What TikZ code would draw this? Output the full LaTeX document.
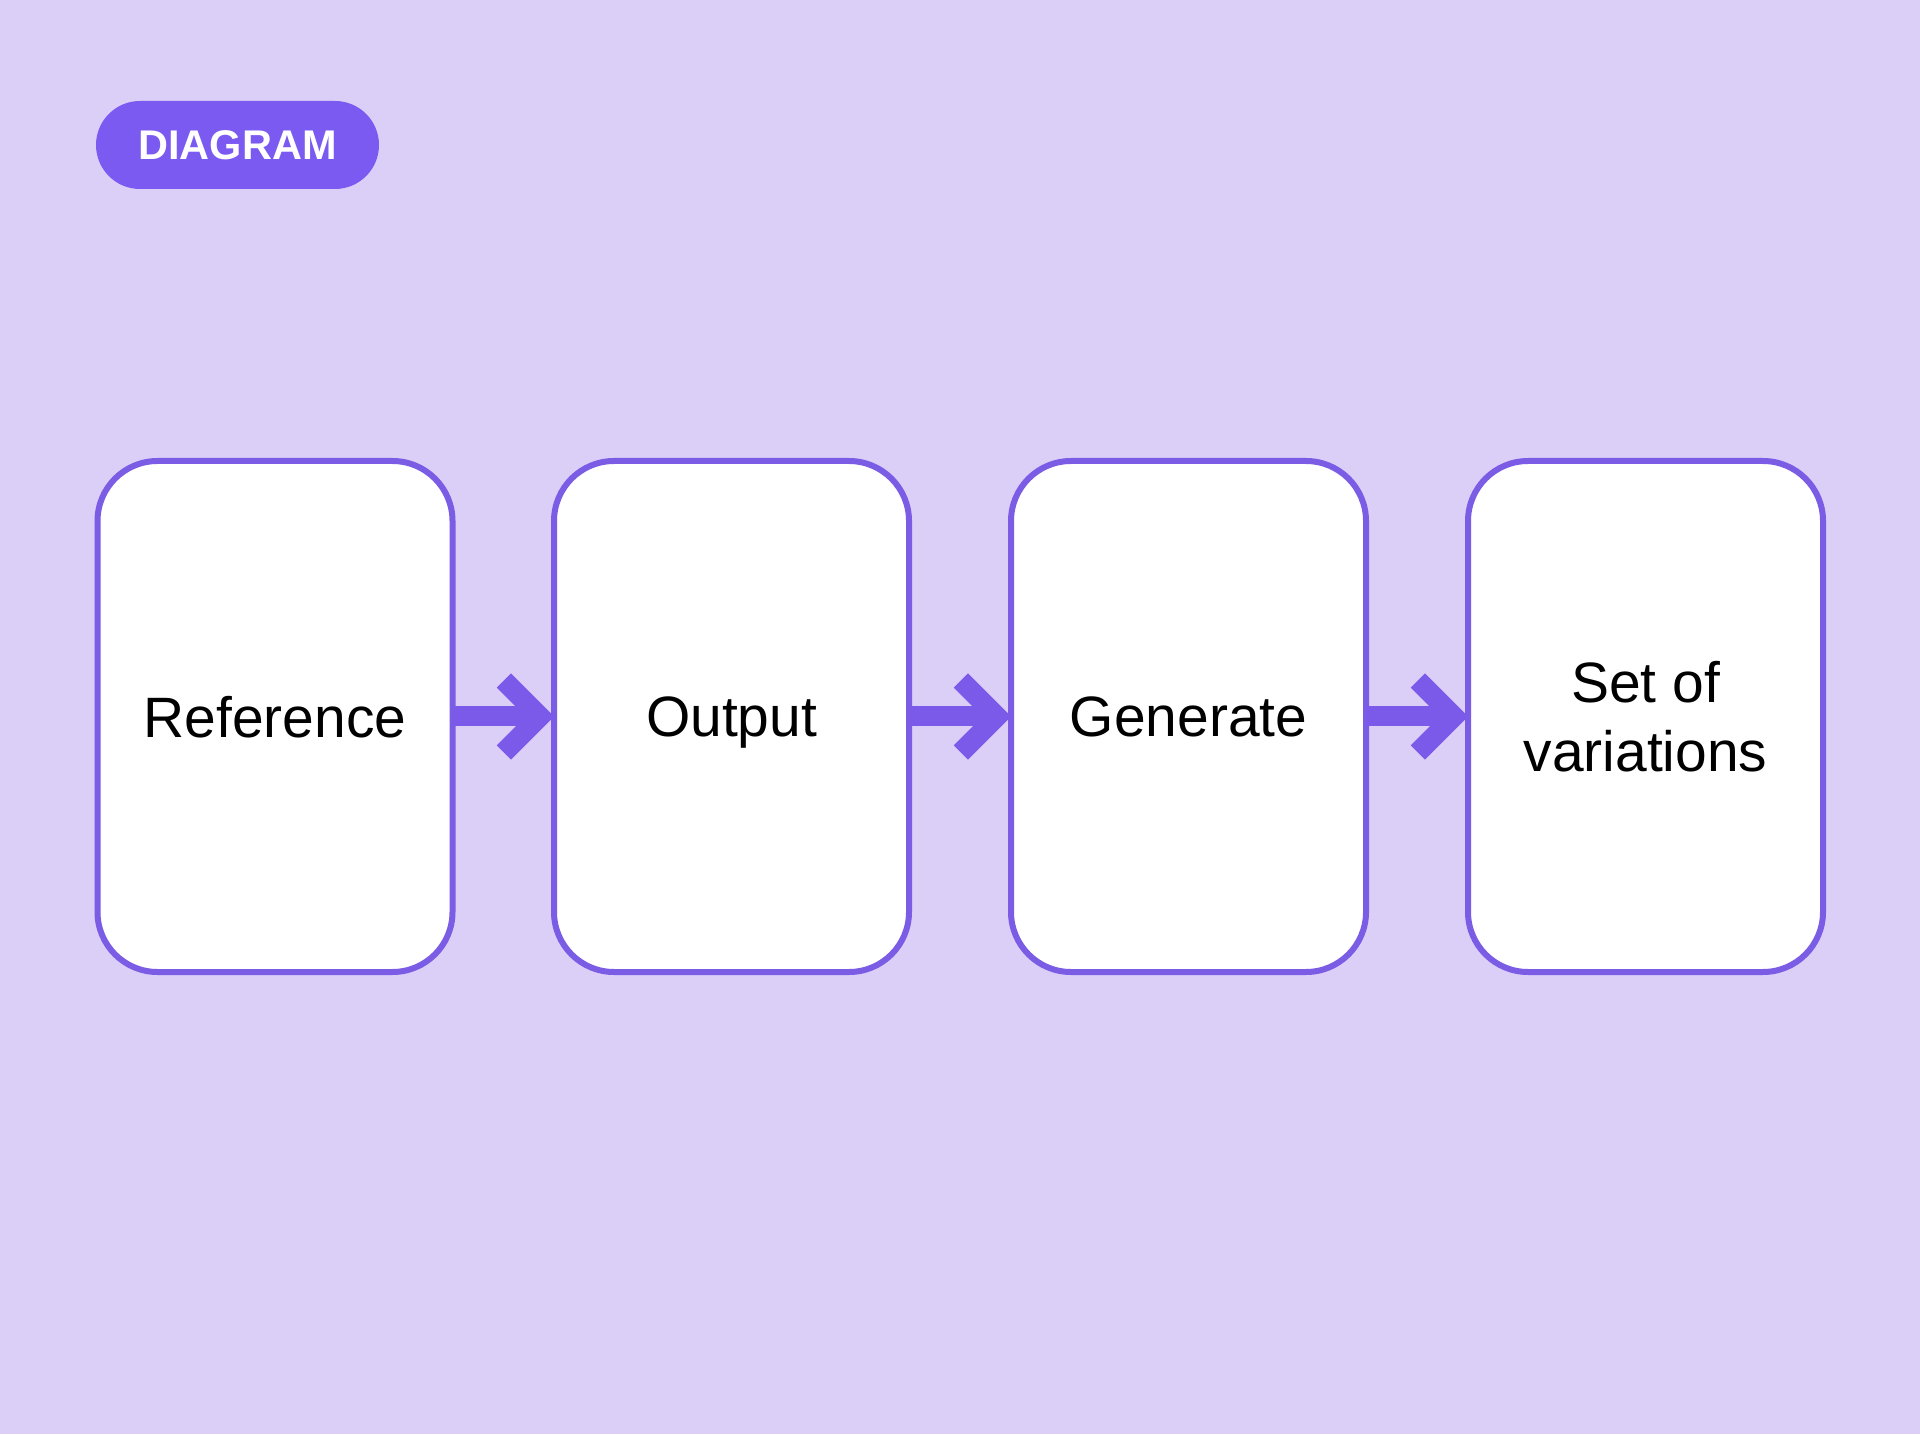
\documentclass[tikz,border=0pt]{standalone}
\usepackage{fontspec}
\setmainfont{Liberation Sans}
\usetikzlibrary{arrows.meta}

\definecolor{bglav}{HTML}{DBCFF8}
\definecolor{tagviolet}{HTML}{7A5AF0}
\definecolor{edgeviolet}{HTML}{7B5CE4}
\definecolor{flowviolet}{HTML}{7B5AEA}

\tikzset{
   card/.style={rectangle, draw=edgeviolet, line width=0.06cm, fill=white,
      rounded corners=0.6cm, minimum width=3.55cm, minimum height=5.11cm,
      inner sep=0pt, outer sep=0pt, align=center, text depth=0pt,
      font=\fontsize{16.2}{19.6}\selectfont},
   flow/.style={draw=flowviolet, line width=0.2cm,
      -{Straight Barb[sharp, length=0.36cm, width=0.72cm]}}
}

\begin{document}
\begin{tikzpicture}
   \fill[bglav] (0,0) rectangle (19.2,14.34);
   \useasboundingbox (0,0) rectangle (19.2,14.34);

   \node[fill=tagviolet, rounded corners=0.44cm, minimum width=2.83cm,
      minimum height=0.88cm, text=white,
      font=\fontsize{11.8}{14}\selectfont\bfseries] (tag) at (2.375,12.89) {DIAGRAM};

   \node[card] (ref) at (2.75,7.175) {Reference};
   \node[card] (out) at (7.315,7.175) {Output};
   \node[card] (gen) at (11.885,7.175) {Generate};
   \node[card] (var) at (16.455,7.175) {Set of\\variations};

   \draw[flow] (ref) -- (out);
   \draw[flow] (out) -- (gen);
   \draw[flow] (gen) -- (var);
\end{tikzpicture}
\end{document}
